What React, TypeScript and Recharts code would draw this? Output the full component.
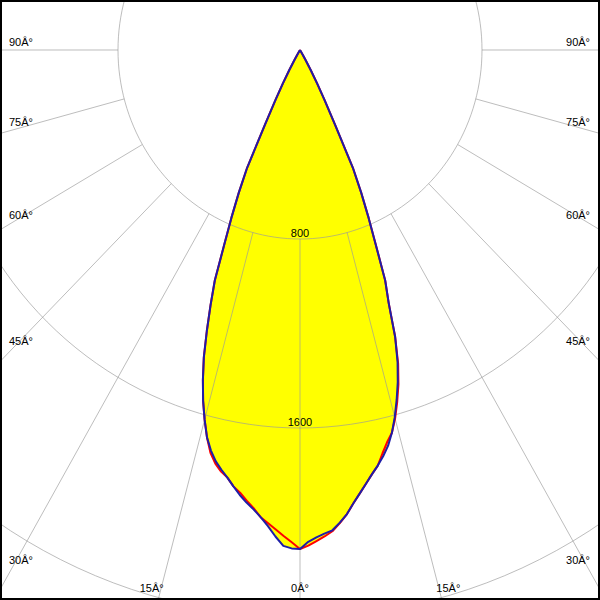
import React from "react";
import { Scatter, ScatterChart, XAxis, YAxis } from "recharts";

// luminous intensity (cd) per gamma angle
const gammas = [
  0, 1, 2, 3, 4, 5, 6, 7, 8, 9, 10, 11, 12, 13, 14, 15, 16, 17, 18, 19, 20, 21,
  22, 23, 24, 25, 26, 27, 28, 29, 30, 31, 32, 33, 34,
];
const blueLeft = [
  2112, 2110, 2100, 2062, 2020, 1985, 1955, 1930, 1902, 1870, 1838, 1810, 1780,
  1740, 1690, 1620, 1545, 1460, 1368, 1258, 1150, 1045, 890, 772, 662, 550, 350,
  236, 160, 98, 50, 22, 6, 0, 0,
];
const blueRight = [
  2108, 2082, 2064, 2050, 2038, 2008, 1975, 1932, 1894, 1858, 1823, 1792, 1758,
  1720, 1670, 1609, 1541, 1470, 1388, 1285, 1140, 1045, 890, 772, 662, 550, 350,
  236, 160, 98, 50, 22, 6, 0, 0,
];
const redLeft = [
  2112, 2084, 2058, 2032, 2008, 1985, 1950, 1922, 1892, 1870, 1838, 1818, 1790,
  1750, 1690, 1620, 1545, 1460, 1368, 1258, 1150, 1045, 890, 772, 662, 550, 350,
  236, 160, 98, 50, 22, 6, 0, 0,
];
const redRight = [
  2108, 2098, 2080, 2062, 2042, 2010, 1975, 1932, 1894, 1858, 1823, 1792, 1745,
  1703, 1670, 1615, 1550, 1480, 1396, 1285, 1140, 1045, 890, 772, 662, 550, 350,
  236, 160, 98, 50, 22, 6, 0, 0,
];

const ringValues = [800, 1600, 2400];
const ringLabels = [800, 1600];
const labelAngles = [-90, -75, -60, -45, -30, -15, 0, 15, 30, 45, 60, 75, 90];

const W = 600;
const H = 600;
const X_DOMAIN: [number, number] = [-1318.7, 1318.7];
const Y_DOMAIN: [number, number] = [-2328, 211.6];
const SX = W / (X_DOMAIN[1] - X_DOMAIN[0]);
const SY = H / (Y_DOMAIN[1] - Y_DOMAIN[0]);
const CX = -X_DOMAIN[0] * SX;
const CY = Y_DOMAIN[1] * SY;

const rad = (d: number) => (d * Math.PI) / 180;
const polar = (g: number, r: number) => ({
  x: r * Math.sin(rad(g)),
  y: -r * Math.cos(rad(g)),
});

const curve = (left: number[], right: number[]) => [
  ...gammas.map((g, i) => polar(-g, left[i])).reverse(),
  ...gammas.slice(1).map((g, i) => polar(g, right[i + 1])),
];

const blueCurve = curve(blueLeft, blueRight);
const redCurve = curve(redLeft, redRight);

const rings = ringValues.map((r) =>
  Array.from({ length: 181 }, (_, i) => polar(i * 2, r))
);

const spokes: { x: number; y: number }[] = [];
for (let a = 0; a < 360; a += 15) {
  spokes.push(polar(a, 800), polar(a, 3200));
}

const toData = (px: number, py: number) => ({
  x: X_DOMAIN[0] + px / SX,
  y: Y_DOMAIN[1] - py / SY,
});

const angleLabels = labelAngles.map((g) => {
  const s = Math.sin(rad(Math.abs(g)));
  const c = Math.cos(rad(Math.abs(g)));
  const text = `${Math.abs(g)}Â°`;
  if (Math.abs(g) <= 15) {
    const t = (625 - CY) / (c * SY);
    return { ...toData(CX + Math.sign(g) * s * SX * t, 592), text, anchor: "middle" };
  }
  const t = (CX - 12) / (s * SX);
  const py = CY + c * SY * t - 4;
  return g < 0
    ? { ...toData(9, py), text, anchor: "start" }
    : { ...toData(W - 10, py), text, anchor: "end" };
});

const ringLabelData = ringLabels.map((r) => ({ ...polar(0, r), text: String(r), anchor: "middle" }));

const pathOf = (pts: { x: number; y: number }[], close = false) =>
  pts.map((p, i) => `${i ? "L" : "M"}${p.x},${p.y}`).join("") + (close ? "Z" : "");

const noDot = () => <g />;
const font = "'Liberation Sans', Arial, sans-serif";

const TextDot = (dy: number) => (props: any) => (
  <text
    x={props.cx}
    y={props.cy + dy}
    textAnchor={props.payload.anchor}
    fontSize={11}
    fontFamily={font}
    fill="#000"
  >
    {props.payload.text}
  </text>
);

const fillLine = (p: any) => <path d={pathOf(p.points, true)} fill="#ffff00" stroke="none" />;
const strokeLine = (color: string) => (p: any) =>
  <path d={pathOf(p.points)} fill="none" stroke={color} strokeWidth={2} strokeLinejoin="round" />;
const gridLine = (p: any) => (
  <path d={pathOf(p.points)} fill="none" stroke="#999999" strokeOpacity={0.65} strokeWidth={1} />
);
const spokeLine = (p: any) => {
  const pts = p.points as { x: number; y: number }[];
  let d = "";
  for (let i = 0; i + 1 < pts.length; i += 2) {
    d += `M${pts[i].x},${pts[i].y}L${pts[i + 1].x},${pts[i + 1].y}`;
  }
  return <path d={d} fill="none" stroke="#999999" strokeOpacity={0.65} strokeWidth={1} />;
};

export default function App() {
  return (
    <div style={{ position: "absolute", left: 0, top: 0, width: W, height: H, background: "#fff" }}>
      <ScatterChart width={W} height={H} margin={{ top: 0, right: 0, bottom: 0, left: 0 }}>
        <XAxis type="number" dataKey="x" domain={X_DOMAIN} allowDataOverflow hide />
        <YAxis type="number" dataKey="y" domain={Y_DOMAIN} allowDataOverflow hide />
        <Scatter data={blueCurve} line={fillLine} shape={noDot} isAnimationActive={false} />
        <Scatter data={redCurve} line={fillLine} shape={noDot} isAnimationActive={false} />
        <Scatter data={ringLabelData} shape={TextDot(-2)} isAnimationActive={false} />
        {rings.map((ring, i) => (
          <Scatter key={i} data={ring} line={gridLine} shape={noDot} isAnimationActive={false} />
        ))}
        <Scatter data={spokes} line={spokeLine} shape={noDot} isAnimationActive={false} />
        <Scatter data={angleLabels} shape={TextDot(0)} isAnimationActive={false} />
        <Scatter data={redCurve} line={strokeLine("#ff0000")} shape={noDot} isAnimationActive={false} />
        <Scatter data={blueCurve} line={strokeLine("#1e1ea8")} shape={noDot} isAnimationActive={false} />
      </ScatterChart>
      <div
        style={{
          position: "absolute",
          left: 0,
          top: 0,
          width: W,
          height: H,
          boxSizing: "border-box",
          border: "2px solid #000",
          pointerEvents: "none",
        }}
      />
    </div>
  );
}
